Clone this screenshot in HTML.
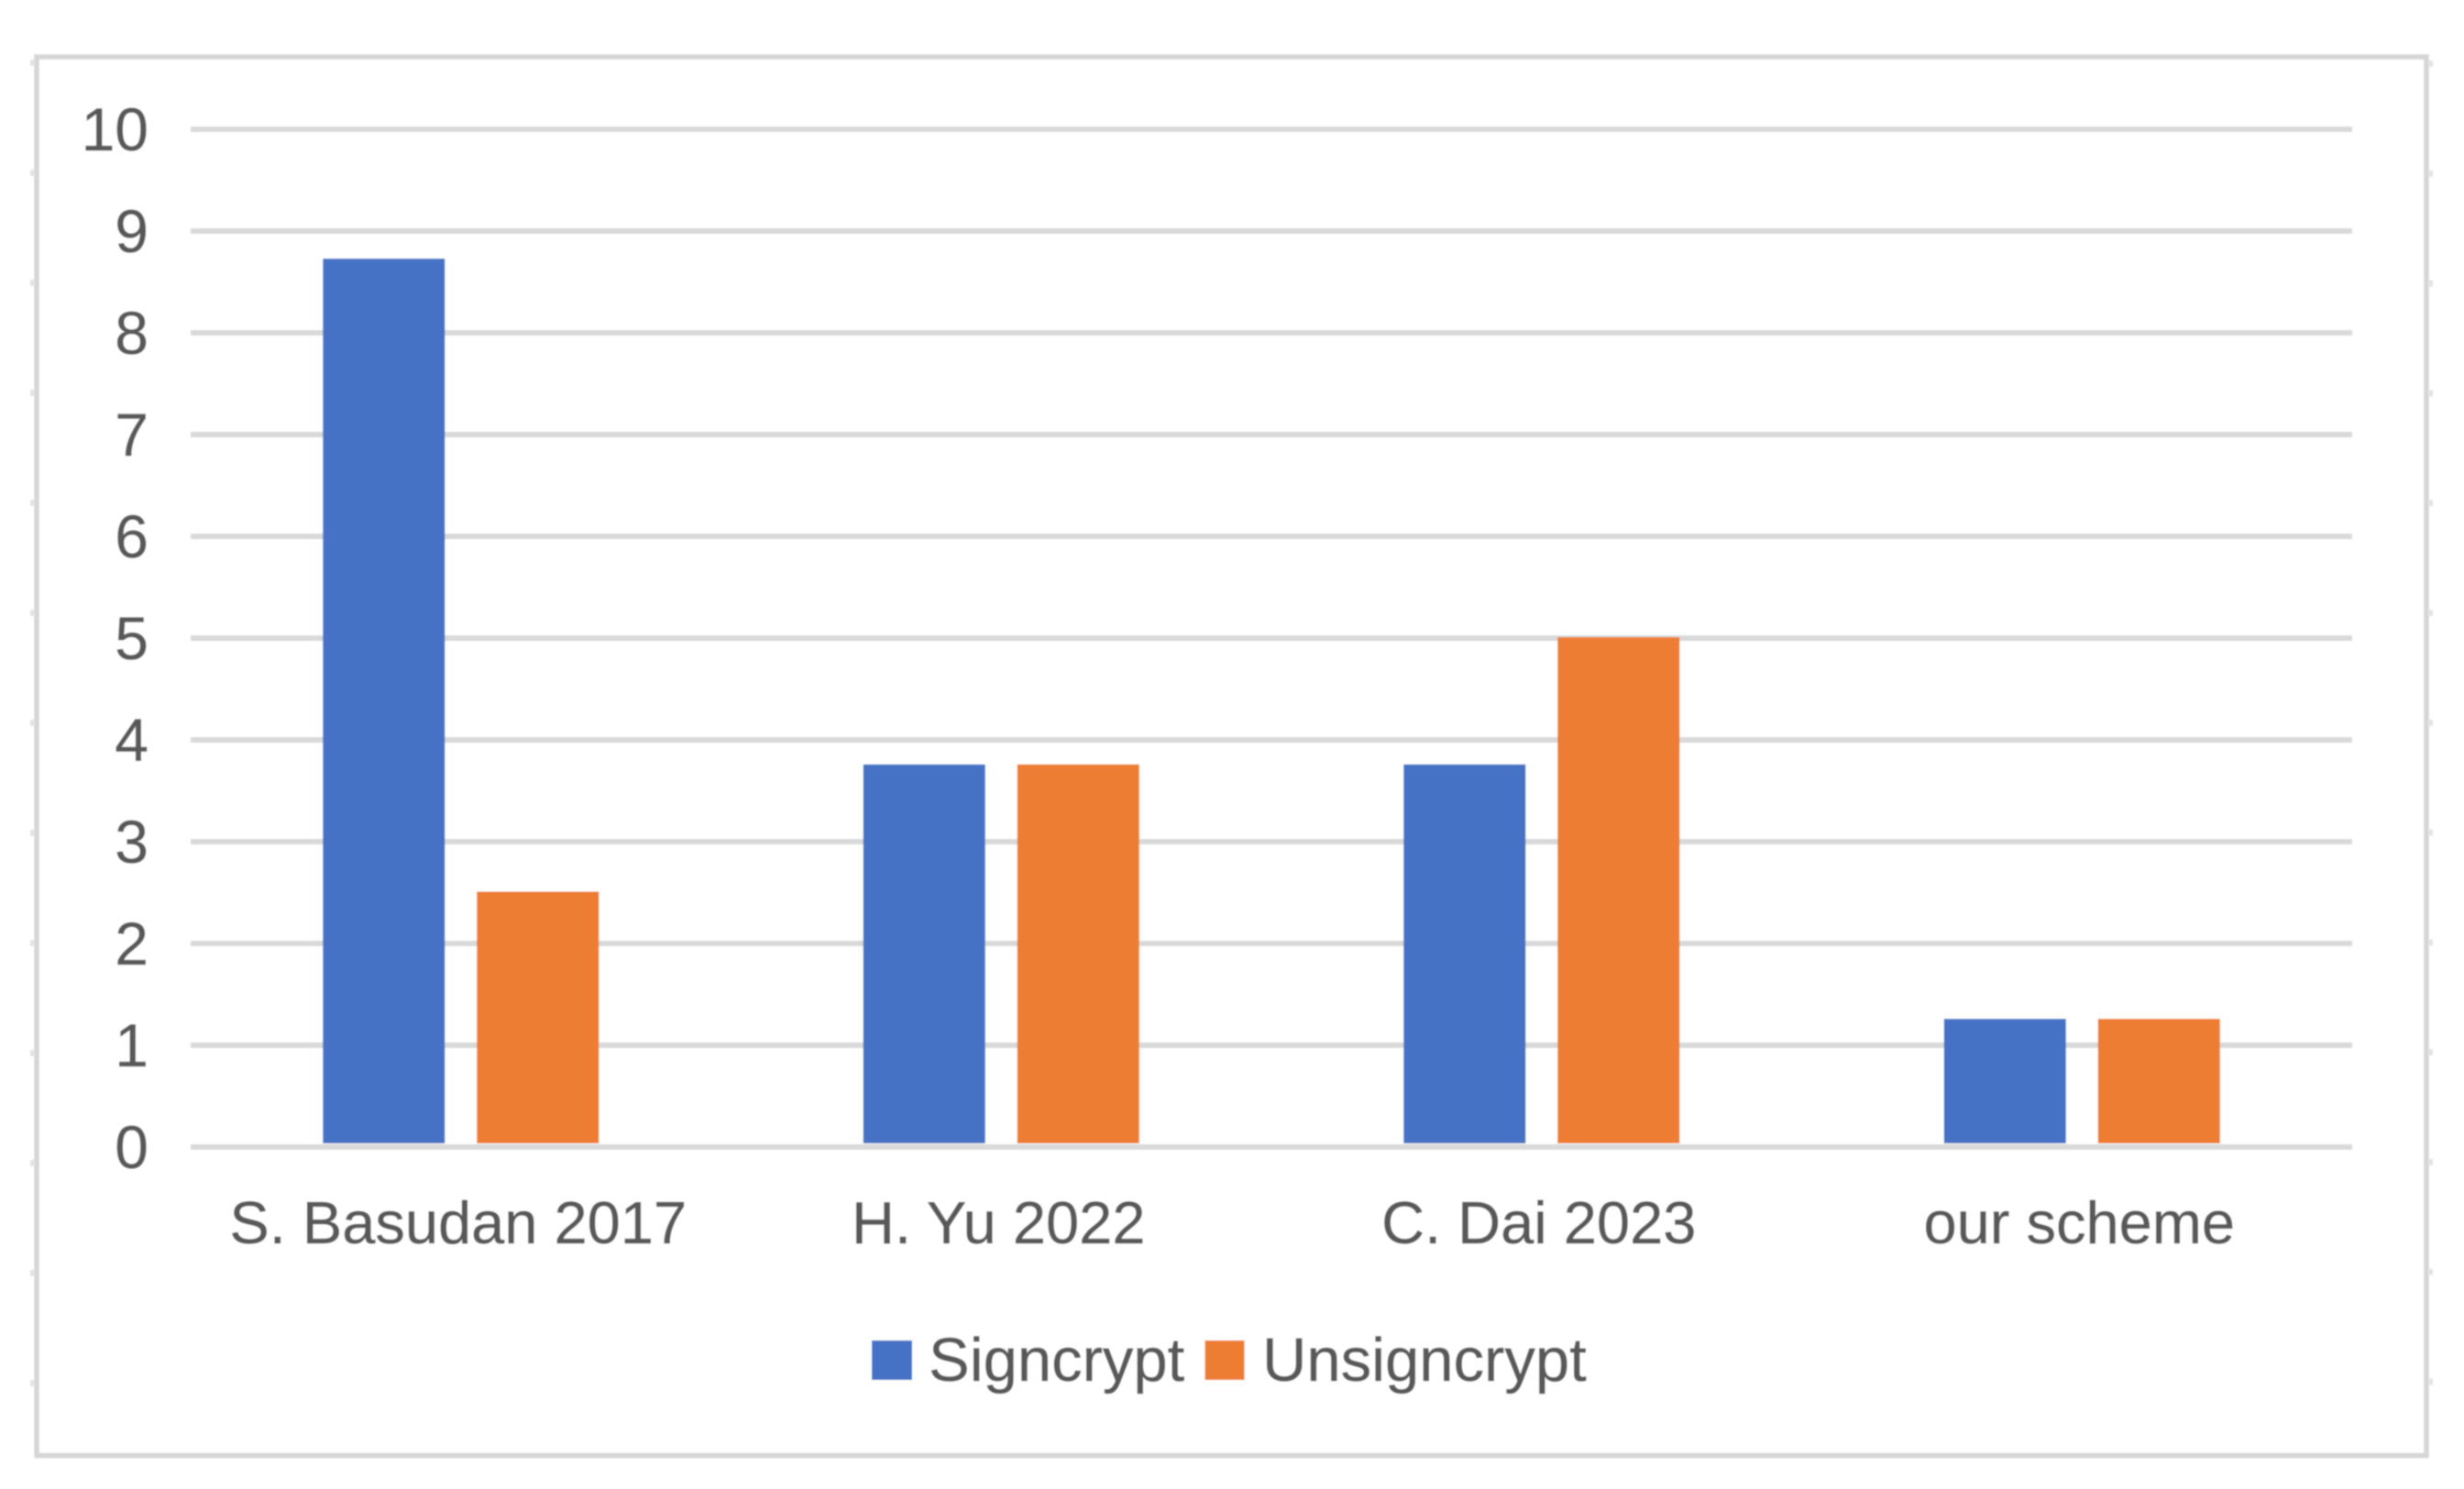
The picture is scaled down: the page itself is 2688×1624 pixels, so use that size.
<!DOCTYPE html>
<html lang="en">
<head>
<meta charset="utf-8">
<title>Signcrypt and Unsigncrypt comparison</title>
<style>
html,body{margin:0;padding:0;background:#fff;width:2688px;height:1624px;overflow:hidden}
svg{display:block}
text{font-family:"Liberation Sans",Arial,sans-serif;fill:#595959;stroke:#595959;stroke-width:0.5}
</style>
</head>
<body>
<svg id="chart" xmlns="http://www.w3.org/2000/svg" width="2688" height="1624" viewBox="0 0 2688 1624">
  <defs>
    <filter id="soft" x="-2%" y="-2%" width="104%" height="104%"><feGaussianBlur stdDeviation="0.9"/></filter>
  </defs>
  <g id="root" filter="url(#soft)">
    <rect x="40" y="62" width="2607" height="1525.5" fill="#fff" stroke="#d6d6d6" stroke-width="5.5"/>
    <g id="edge-notches"></g>
    <g id="grid"></g>
    <g id="y-labels"></g>
    <g id="bars"></g>
    <g id="x-labels"></g>
    <g>
      <rect x="951" y="1462" width="44" height="43" fill="#4472c4"/>
      <text x="1013" y="1506" font-size="67">Signcrypt</text>
      <rect x="1314.5" y="1462" width="43" height="43" fill="#ed7d31"/>
      <text x="1377" y="1506" font-size="67">Unsigncrypt</text>
    </g>
  </g>
</svg>
<script>
const categories = ["S. Basudan 2017", "H. Yu 2022", "C. Dai 2023", "our scheme"];
const signcrypt = [8.72, 3.75, 3.75, 1.25];
const unsigncrypt = [2.5, 3.75, 5, 1.25];
const yTicks = [0, 1, 2, 3, 4, 5, 6, 7, 8, 9, 10];

const SVGNS = "http://www.w3.org/2000/svg";
const plotLeft = 208, plotRight = 2566, plotBase = 1250, plotTop = 140;
const yMax = 10;
const barWidth = 133, barOffset = 17.5;

function yScale(v) {
  return plotBase - (v / yMax) * (plotBase - plotTop);
}
function xCenter(i) {
  return plotLeft + (plotRight - plotLeft) * (i + 0.5) / categories.length;
}
function make(tag, attrs) {
  const el = document.createElementNS(SVGNS, tag);
  for (const k in attrs) el.setAttribute(k, attrs[k]);
  return el;
}

const gridGroup = document.getElementById("grid");
const yLabelGroup = document.getElementById("y-labels");
yTicks.forEach(function (t) {
  const line = make("line", {x1: plotLeft, x2: plotRight, y1: yScale(t) + 1, y2: yScale(t) + 1, stroke: "#d9d9d9", "stroke-width": 6});
  
  
  gridGroup.appendChild(line);
  const label = make("text", {x: 162, y: yScale(t) + 24, "font-size": 66, "text-anchor": "end"});
  
  
  label.textContent = String(t);
  yLabelGroup.appendChild(label);
});

const barGroup = document.getElementById("bars");
function addBar(value, i, side, color) {
  const base = yScale(0) - 3;
  const top = yScale(value);
  const cx = xCenter(i);
  const x = side < 0 ? cx - barOffset - barWidth : cx + barOffset;
  const bar = make("rect", {x: x, y: top, width: barWidth, height: Math.max(0, base - top), fill: color});
  
  
  barGroup.appendChild(bar);
}
categories.forEach(function (c, i) {
  addBar(signcrypt[i], i, -1, "#4472c4");
  addBar(unsigncrypt[i], i, 1, "#ed7d31");
});

const xLabelGroup = document.getElementById("x-labels");
categories.forEach(function (c, i) {
  const label = make("text", {x: xCenter(i) - 3, y: 1356, "font-size": 65, "text-anchor": "middle"});
  
  
  label.textContent = c;
  xLabelGroup.appendChild(label);
});

const notchGroup = document.getElementById("edge-notches");
for (let k = 0; k <= 12; k++) {
  const left = make("rect", {x: 33, y: 65 + 120 * k, width: 5, height: 7, fill: "#e4e4e4"});
  
  
  notchGroup.appendChild(left);
  const right = make("rect", {x: 2649, y: 66 + 120 * k - k * 0.2, width: 5, height: 7, fill: "#e4e4e4"});
  
  
  notchGroup.appendChild(right);
}
</script>
</body>
</html>
